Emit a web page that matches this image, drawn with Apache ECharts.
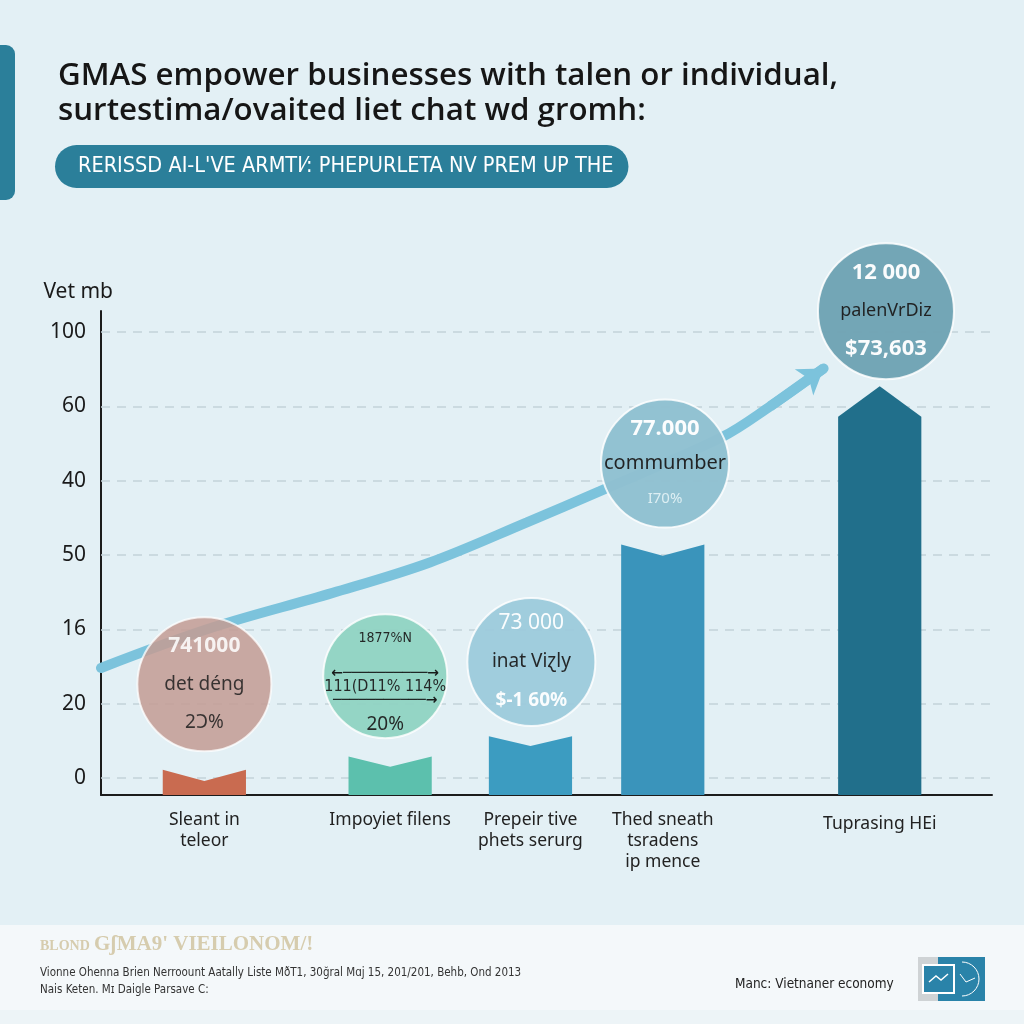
<!DOCTYPE html>
<html><head><meta charset="utf-8">
<script src="https://cdn.jsdelivr.net/npm/echarts@6/dist/echarts.min.js"></script>
<style>html,body{margin:0;padding:0;background:#e3f0f5}#c{width:1024px;height:1024px}</style>
</head><body><div id="c"></div>
<script>
// ---------- data ----------
const titleLines = ['GMAS empower businesses with talen or individual,', 'surtestima/ovaited liet chat wd gromh:'];
const bannerText = "RERISSD AI-L'VE ARMTI\u2044: PHEPURLETA NV PREM UP THE";
const yAxisName = 'Vet mb';
const yTickValues = [0, 1, 2, 3, 4, 5, 6];
const yTickLabels = ['0', '20', '16', '50', '40', '60', '100'];
const categories = ['Sleant in\nteleor', 'Impoyiet filens', 'Prepeir tive\nphets serurg', 'Thed sneath\ntsradens\nip mence', 'Tuprasing HEi'];
const catPos = [11.6, 32.45, 48.2, 63.05, 87.4];
const barShoulder = [0.11, 0.29, 0.56, 3.14, 4.86];
const barTip = [-0.04, 0.15, 0.43, 2.99, 5.27];
const bubbleX = [11.6, 31.9, 48.3, 63.3, 88.1];
const bubbleY = [1.26, 1.37, 1.56, 4.23, 6.28];
const bubbleValue = ['741000', '1877%N', '73 000', '77.000', '12 000'];
const bubbleName = ['det d\u00e9ng', '111(D11% 114%', 'inat Vi\u0240ly', 'commumber', 'palenVrDiz'];
const bubbleChange = ['2\u2183%', '20%', '$-1 60%', 'I70%', '$73,603'];
const trendX = [0, 12.4, 26.0, 36.9, 47.8, 56.0, 69.6, 75.1, 81.1];
const trendY = [1.48, 2.02, 2.49, 2.90, 3.44, 3.86, 4.58, 5.0, 5.51];
const footerBrandSmall = 'BLOND ';
const footerBrand = "G\u0283MA9' VIEILONOM/!";
const footerNote1 = 'Vionne Ohenna Brien Nerroount Aatally Liste M\u00f0T1, 30\u011fral M\u0251j 15, 201/201, Behb, Ond 2013';
const footerNote2 = 'Nais Keten. M\u026a Daigle Parsave C:';
const footerSource = 'Manc: Vietnaner economy';

// ---------- styles ----------
const barColors = ['#c96b50', '#5cc0ad', '#3c9cc1', '#3a94bb', '#216f8b'];
const barWidthUnits = 9.34;
const bubbleColors = ['#c49c94', '#8fd3c2', '#9ccadb', '#8fc0d1', '#6fa3b4'];
const bubbleOpacity = [0.86, 0.95, 0.95, 0.97, 0.97];
const bubbleSizes = [134, 124, 128, 128, 136];
const FONT = 'Noto Sans';
const COND = 'DejaVu Sans Condensed';

function bubbleRich(i) {
  const white = '#ffffff', dark = '#1e1e1e';
  if (i === 1) {
    return {
      v: {fontSize: 14, color: dark, lineHeight: 60, fontFamily: COND},
      a: {fontSize: 14, color: '#111', lineHeight: 10, fontFamily: 'DejaVu Sans', fontWeight: 'bold'},
      n: {fontSize: 16, color: dark, lineHeight: 18, fontFamily: COND},
      a2: {fontSize: 14, color: '#111', lineHeight: 8, fontFamily: 'DejaVu Sans', fontWeight: 'bold'},
      c: {fontSize: 19, color: dark, lineHeight: 40, fontFamily: FONT}
    };
  }
  const lh = [38, 38, 39, 35, 38][i];
  const cfg = [
    {v: [white, 21, 'bold'], n: [dark, 19, 'normal'], c: [dark, 19, 'normal']},
    null,
    {v: [white, 21, 'normal'], n: [dark, 19, 'normal'], c: [white, 19, 'bold']},
    {v: [white, 22, 'bold'], n: [dark, 20, 'normal'], c: ['#dff0f4', 15, 'normal']},
    {v: [white, 22, 'bold'], n: [dark, 18, 'normal'], c: [white, 22, 'bold']}
  ][i];
  const mk = k => ({color: cfg[k][0], fontSize: cfg[k][1], fontWeight: cfg[k][2], lineHeight: lh, fontFamily: FONT});
  return {v: mk('v'), n: mk('n'), c: mk('c')};
}
function bubbleText(i) {
  if (i === 1) {
    const dash = '\u2500'.repeat(10);
    return `{v|${bubbleValue[i]}}\n{a|\u2190${dash}\u2192}\n{n|${bubbleName[i]}}\n{a2|${dash}\u2500\u2192}\n{c|${bubbleChange[i]}}`;
  }
  return `{v|${bubbleValue[i]}}\n{n|${bubbleName[i]}}\n{c|${bubbleChange[i]}}`;
}

const chart = echarts.init(document.getElementById('c'), null, {renderer: 'canvas'});

const option = {
  backgroundColor: '#e3f0f5',
  animation: false,
  title: [
    {
      text: titleLines.join('\n'), left: 53, top: 54,
      textStyle: {fontFamily: 'Open Sans', fontSize: 31.3, fontWeight: 600, color: '#161616', lineHeight: 35}
    },
    {
      text: bannerText, left: 55, top: 145,
      backgroundColor: '#2b7f9a', borderRadius: 22, padding: [9, 15, 9, 23],
      textStyle: {fontFamily: COND, fontSize: 21.5, fontWeight: 'normal', color: '#ffffff', lineHeight: 25}
    }
  ],
  grid: {left: 101, right: 32, top: 311, bottom: 229, containLabel: false},
  xAxis: {
    type: 'value', min: 0, max: 100,
    axisLine: {show: true, onZero: false, lineStyle: {color: '#1c1c1c', width: 2}},
    axisTick: {show: false},
    splitLine: {show: false},
    axisLabel: {
      customValues: catPos, margin: 15,
      formatter: v => {
        const i = catPos.indexOf(v);
        return i === categories.length - 1 ? `{low|${categories[i]}}` : (categories[i] || '');
      },
      rich: {low: {fontFamily: FONT, fontSize: 17.5, color: '#222', lineHeight: 21, padding: [7, 0, 0, 0]}},
      fontFamily: FONT, fontSize: 17.5, color: '#222', lineHeight: 21
    }
  },
  yAxis: {
    type: 'value', min: -0.229, max: 6.283,
    name: yAxisName, nameLocation: 'end', nameGap: 8,
    nameTextStyle: {fontFamily: FONT, fontSize: 21, color: '#1a1a1a', align: 'right', padding: [0, -12, 0, 0]},
    axisLine: {show: true, lineStyle: {color: '#1c1c1c', width: 2}},
    axisTick: {show: false},
    splitLine: {show: false},
    axisLabel: {
      customValues: yTickValues, margin: 15,
      formatter: v => yTickLabels[yTickValues.indexOf(Math.round(v))],
      fontFamily: FONT, fontSize: 21, color: '#1a1a1a'
    }
  },
  series: [
    {
      type: 'custom', z: 3, clip: false,
      data: catPos.map((x, i) => [x, barShoulder[i], barTip[i]]),
      renderItem(params, api) {
        const i = params.dataIndex;
        const x = api.value(0);
        const s = api.coord([x, api.value(1)]);
        const t = api.coord([x, api.value(2)]);
        const half = api.size([barWidthUnits, 0])[0] / 2;
        const base = params.coordSys.y + params.coordSys.height;
        return {
          type: 'polygon',
          shape: {points: [[s[0] - half, base], [s[0] - half, s[1]], [s[0], t[1]], [s[0] + half, s[1]], [s[0] + half, base]]},
          style: {fill: barColors[i]}
        };
      },
      markLine: {
        silent: true, symbol: 'none', z: 1,
        label: {show: false},
        lineStyle: {type: [9, 7], color: '#c3d2d9', width: 1.5},
        data: yTickValues.map(v => ({yAxis: v}))
      }
    },
    {
      type: 'line', z: 4, smooth: 0.35, showSymbol: false, clip: false,
      data: trendX.map((x, i) => [x, trendY[i]]),
      lineStyle: {width: 10, color: '#7cc3dc', cap: 'round'}
    },
    {
      type: 'lines', coordinateSystem: 'cartesian2d', z: 4,
      data: [{coords: [[trendX[trendX.length - 2], trendY[trendY.length - 2]], [trendX[trendX.length - 1], trendY[trendY.length - 1]]]}],
      symbol: ['none', 'arrow'], symbolSize: 24,
      lineStyle: {width: 10, color: '#7cc3dc', opacity: 1, curveness: 0}
    },
    {
      type: 'scatter', z: 6, clip: false,
      data: bubbleX.map((x, i) => ({
        value: [x, bubbleY[i]],
        symbolSize: bubbleSizes[i],
        itemStyle: {color: bubbleColors[i], opacity: bubbleOpacity[i], borderColor: 'rgba(255,255,255,0.85)', borderWidth: 2},
        label: {show: true, position: 'inside', formatter: bubbleText(i), rich: bubbleRich(i)}
      }))
    }
  ],
  graphic: [
    {type: 'rect', z: -10, shape: {x: 0, y: 925, width: 1024, height: 85}, style: {fill: '#f4f8fa'}},
    {type: 'rect', z: -10, shape: {x: 0, y: 1010, width: 1024, height: 14}, style: {fill: '#edf4f7'}},
    {type: 'rect', z: 5, shape: {x: -12, y: 45, width: 27, height: 155, r: 9}, style: {fill: '#2b7f9a'}},
    {type: 'text', z: 5, style: {x: 40, y: 946, text: footerBrandSmall, font: 'bold 14px "Liberation Serif"', fill: '#d6ccae', verticalAlign: 'middle'}},
    {type: 'text', z: 5, style: {x: 94, y: 945, text: footerBrand, font: 'bold 21px "Liberation Serif"', fill: '#d6ccae', verticalAlign: 'middle'}},
    {type: 'text', z: 5, style: {x: 40, y: 973, text: footerNote1, font: '11.5px "DejaVu Sans Condensed"', fill: '#333', verticalAlign: 'middle'}},
    {type: 'text', z: 5, style: {x: 40, y: 990, text: footerNote2, font: '11.5px "DejaVu Sans Condensed"', fill: '#333', verticalAlign: 'middle'}},
    {type: 'text', z: 5, style: {x: 735, y: 984, text: footerSource, font: '13.5px "DejaVu Sans Condensed"', fill: '#222', verticalAlign: 'middle'}},
    {type: 'rect', z: 5, shape: {x: 918, y: 957, width: 24, height: 44}, style: {fill: '#cfd3d5'}},
    {type: 'rect', z: 5, shape: {x: 938, y: 957, width: 47, height: 44}, style: {fill: '#2a83a9'}},
    {type: 'rect', z: 6, shape: {x: 923, y: 965, width: 31, height: 28}, style: {fill: '#2a83a9', stroke: '#ffffff', lineWidth: 2}},
    {type: 'polyline', z: 7, shape: {points: [[929, 982], [936, 976], [941, 980], [948, 974]]}, style: {stroke: '#fff', lineWidth: 1.5, fill: null}},
    {type: 'arc', z: 7, shape: {cx: 962, cy: 979, r: 17, startAngle: -Math.PI / 2, endAngle: Math.PI / 2}, style: {stroke: '#fff', lineWidth: 1, fill: null}},
    {type: 'polyline', z: 7, shape: {points: [[960, 974], [966, 982], [975, 978]]}, style: {stroke: '#fff', lineWidth: 1, fill: null}}
  ]
};
chart.setOption(option);
</script>
</body></html>
